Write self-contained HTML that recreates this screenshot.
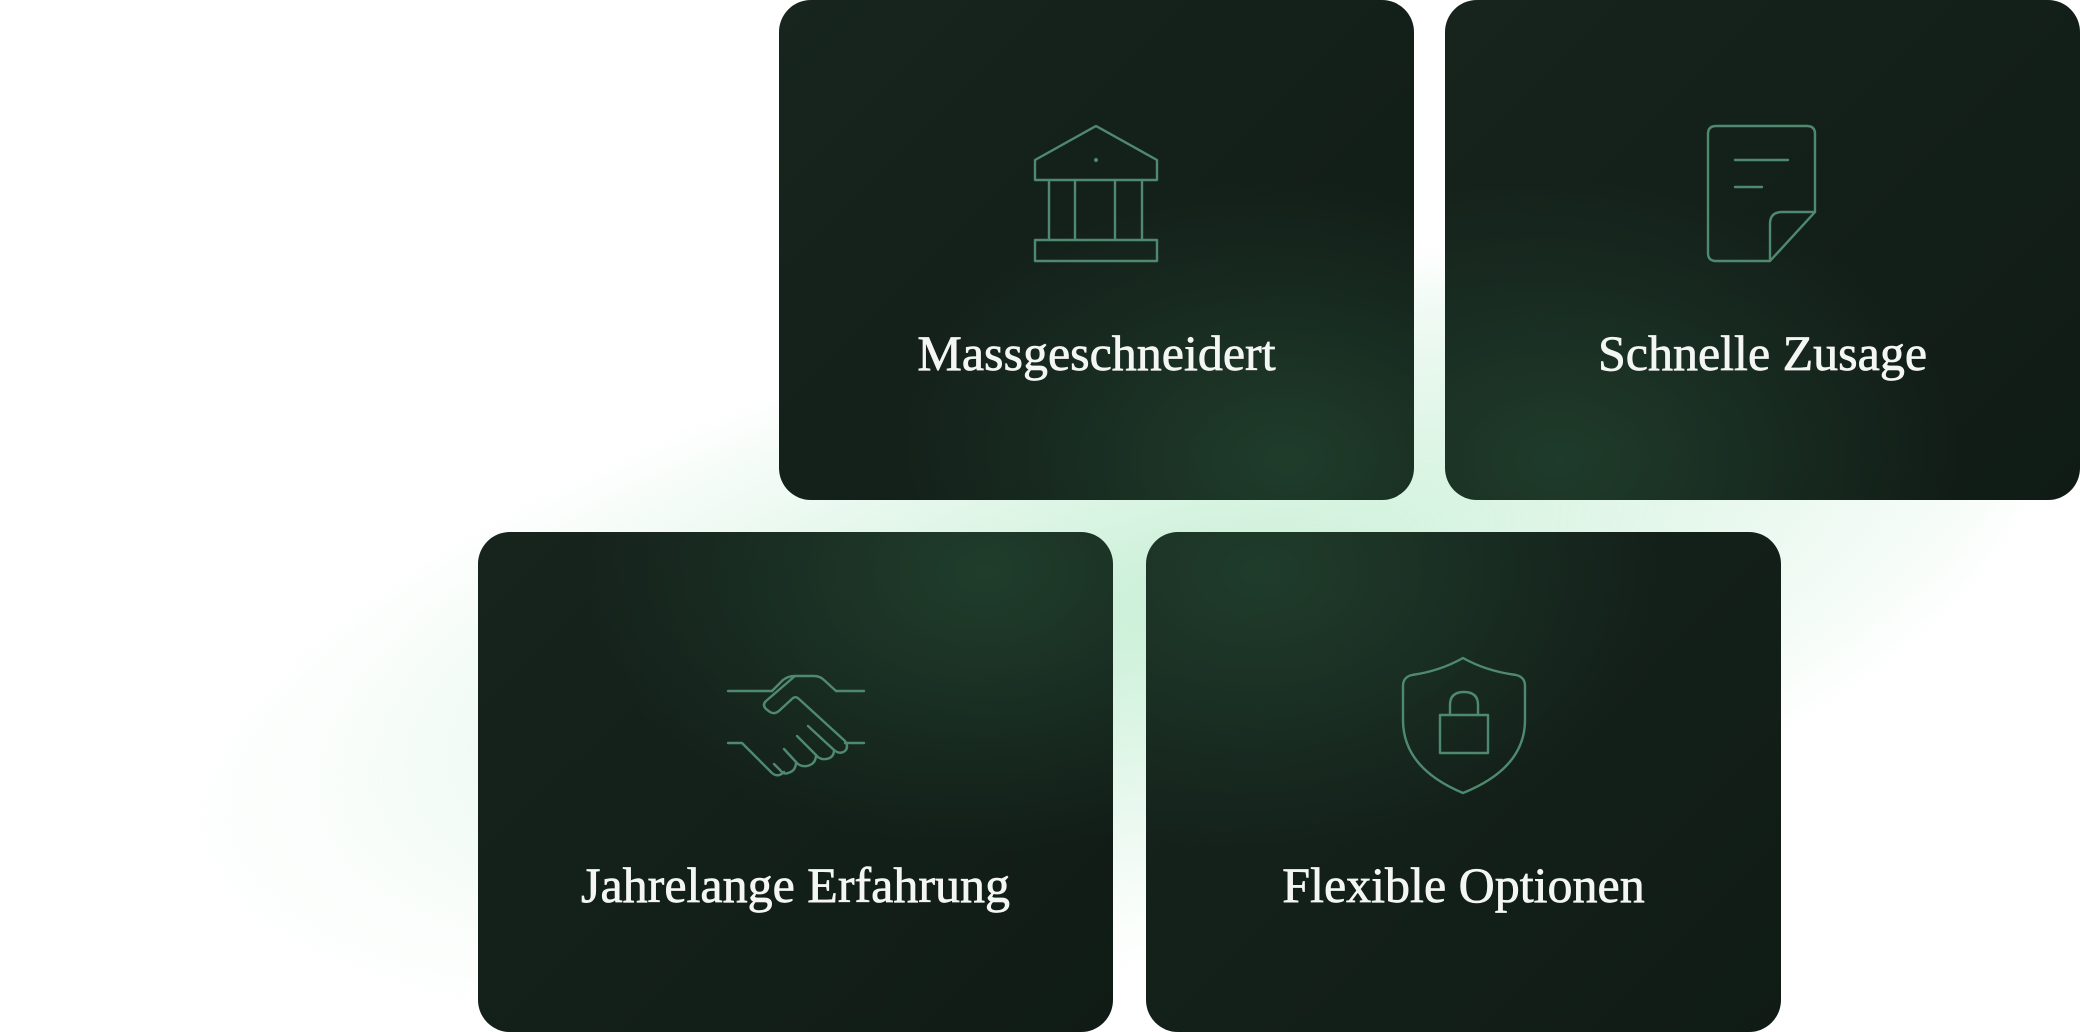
<!DOCTYPE html>
<html><head><meta charset="utf-8"><style>
html,body{margin:0;padding:0;width:2080px;height:1032px;}
body{background:#fff;font-family:"Liberation Serif",serif;}
.page{position:relative;width:2080px;height:1032px;overflow:hidden;}
.glow{position:absolute;left:150px;top:330px;width:1900px;height:640px;border-radius:50%;
background:radial-gradient(ellipse at 55% 45%,rgba(195,238,210,0.9) 0%,rgba(215,243,225,0.65) 35%,rgba(238,250,242,0.3) 60%,rgba(255,255,255,0) 72%);
transform:rotate(-14deg);filter:blur(20px);}
.card{position:absolute;width:635px;height:500px;border-radius:32px;background-color:#121e18;}
.card div{position:absolute;left:0;right:0;top:324px;text-align:center;color:#f4f6f3;font-size:50px;font-weight:normal;-webkit-text-stroke:0.7px #f4f6f3;}
#c1{left:779px;top:0;background-image:radial-gradient(ellipse 400px 280px at 80% 92%,rgba(34,66,47,0.85),rgba(18,30,24,0) 100%),linear-gradient(135deg,#17251e,#101b15);}
#c2{left:1445px;top:0;background-image:radial-gradient(ellipse 400px 280px at 18% 92%,rgba(34,66,47,0.8),rgba(18,30,24,0) 100%),linear-gradient(135deg,#16241d,#101b15);}
#c3{left:478px;top:532px;background-image:radial-gradient(ellipse 400px 280px at 80% 8%,rgba(34,66,47,0.85),rgba(18,30,24,0) 100%),linear-gradient(135deg,#16241d,#101b15);}
#c4{left:1146px;top:532px;background-image:radial-gradient(ellipse 400px 280px at 18% 8%,rgba(34,66,47,0.8),rgba(18,30,24,0) 100%),linear-gradient(135deg,#16241d,#101b15);}
svg{position:absolute;left:0;top:0;}
</style></head><body>
<div class="page">
<div class="glow"></div>
<div class="card" id="c1"><div>Massgeschneidert</div></div>
<div class="card" id="c2"><div>Schnelle Zusage</div></div>
<div class="card" id="c3"><div>Jahrelange Erfahrung</div></div>
<div class="card" id="c4"><div>Flexible Optionen</div></div>
<svg width="2080" height="1032" viewBox="0 0 2080 1032" fill="none" stroke="#4f8a70" stroke-width="2.4" stroke-linejoin="round" stroke-linecap="round">
<path d="M1035 160 L1096 126 L1157 160 V180 H1035 Z"/>
<circle cx="1096" cy="160" r="0.8" fill="#4f8a70"/>
<path d="M1049 180 V240 M1075 180 V240 M1115 180 V240 M1142 180 V240"/>
<rect x="1035" y="240" width="122" height="21"/>
<path d="M1716 126 H1807 Q1815 126 1815 134 V212 L1770 261 H1716 Q1708 261 1708 253 V134 Q1708 126 1716 126 Z"/>
<path d="M1815 212 H1782 Q1770 212 1770 224 V261"/>
<path d="M1735 160 H1788 M1735 187 H1762"/>
<path d="M728 691 H772"/>
<path d="M836 691 H864"/>
<path d="M772 691 L783 680 Q788 676 795 676 H814 Q820 676 824 680 L836 691"/>
<path d="M795 676 L766 701 Q762 705 766 709 L770 712 Q775 715 780 710 L793 698 Q796 696 799 699 L845 741 Q849 747 845 751 Q840 755 834 750 L808 726"/>
<path d="M728 743 H742 L772 773 Q778 778 784 772"/>
<path d="M845 743 H864"/>
<path d="M834 750 Q834 758 826 759 Q820 760 816 755 L797 736"/>
<path d="M816 755 Q816 764 807 766 Q800 767 796 762 L784 749"/>
<path d="M796 762 Q796 771 788 773 Q784 775 780 770 L774 764"/>
<path d="M1463 658 Q1440 671 1412 675 Q1403 677 1403 686 V720 Q1403 768 1463 793 Q1525 768 1525 720 V686 Q1525 677 1516 675 Q1486 671 1463 658 Z"/>
<rect x="1440" y="715" width="48" height="38"/>
<path d="M1450 715 V705 Q1450 692 1464 692 Q1478 692 1478 705 V715"/>
</svg>
</div>
</body></html>
